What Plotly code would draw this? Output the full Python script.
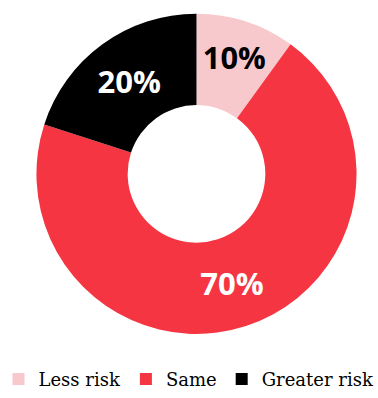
import plotly.graph_objects as go

labels = ["Less risk", "Same", "Greater risk"]
values = [10, 70, 20]
colors = ["#f7c9cc", "#f53542", "#000000"]
text_colors = ["#000000", "#ffffff", "#ffffff"]

W, H = 378, 398

fig = go.Figure(go.Pie(
    labels=labels,
    values=values,
    sort=False,
    direction="clockwise",
    rotation=0,
    hole=0.43,
    domain=dict(x=[33 / W, 360 / W], y=[(H - 339) / H, (H - 14) / H]),
    marker=dict(colors=colors, line=dict(width=0)),
    texttemplate="%{percent:.0%}",
    textposition="inside",
    insidetextorientation="horizontal",
    textfont=dict(family="Open Sans", size=31, color=text_colors, weight="bold"),
))

fig.update_layout(
    width=W, height=H,
    margin=dict(l=0, r=0, t=0, b=0),
    paper_bgcolor="white",
    showlegend=True,
    legend=dict(
        orientation="h",
        x=0.5, xanchor="center",
        y=13 / H, yanchor="middle",
        font=dict(family="DejaVu Serif", size=18, color="#000"),
        itemwidth=30,
        traceorder="normal",
        tracegroupgap=0,
        itemsizing="constant",
    ),
)

fig.write_html("out.html")
